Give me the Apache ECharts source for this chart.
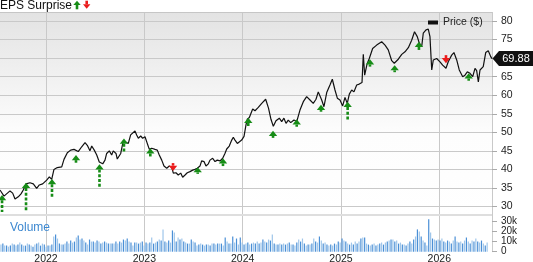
<!DOCTYPE html>
<html><head><meta charset="utf-8">
<script src="https://cdn.jsdelivr.net/npm/echarts@6/dist/echarts.min.js"></script>
<style>html,body{margin:0;padding:0;background:#fff}#c{width:533px;height:262px}</style>
</head><body><div id="c"></div>
<script>
// ---- data (decimal years, prices in $) ----
const priceDates = [2021.532,2021.573,2021.634,2021.661,2021.685,2021.718,2021.746,2021.769,2021.797,2021.837,2021.871,2021.905,2021.932,2021.966,2022.007,2022.034,2022.058,2022.081,2022.115,2022.160,2022.183,2022.217,2022.251,2022.285,2022.328,2022.363,2022.397,2022.420,2022.447,2022.465,2022.491,2022.516,2022.542,2022.577,2022.600,2022.617,2022.644,2022.668,2022.684,2022.712,2022.725,2022.760,2022.786,
2022.803,2022.837,2022.861,2022.905,2022.922,2022.939,2022.963,2022.983,2023.007,2023.030,2023.051,2023.075,2023.109,2023.132,2023.152,2023.177,2023.200,2023.228,2023.254,2023.278,2023.295,2023.322,2023.345,2023.370,2023.390,2023.414,2023.437,2023.464,2023.492,2023.515,2023.539,2023.566,2023.583,2023.607,2023.627,2023.651,2023.668,2023.695,2023.719,2023.742,2023.770,2023.797,2023.820,2023.838,2023.864,2023.889,2023.905,2023.922,2023.946,2023.966,2023.990,
2024.014,2024.034,2024.047,2024.068,2024.085,2024.102,2024.126,2024.159,2024.194,2024.234,2024.263,2024.288,2024.312,2024.339,2024.373,2024.397,2024.420,2024.441,2024.464,2024.489,2024.522,2024.550,2024.583,2024.617,2024.651,2024.685,2024.718,2024.746,2024.769,2024.804,2024.827,2024.855,2024.888,2024.912,2024.939,2024.963,2024.990,
2025.017,2025.041,2025.064,2025.085,2025.109,2025.132,2025.160,2025.186,2025.214,2025.227,2025.241,2025.265,2025.288,2025.322,2025.363,2025.414,2025.448,2025.481,2025.516,2025.542,2025.583,2025.618,2025.651,2025.685,2025.719,2025.748,2025.776,2025.797,2025.821,2025.837,2025.865,2025.888,2025.905,2025.923,2025.939,2025.973,
2026.007,2026.034,2026.068,2026.091,2026.126,2026.149,2026.177,2026.203,2026.238,2026.261,2026.285,2026.312,2026.340,2026.363,2026.380,2026.397,2026.414,2026.447,2026.472,2026.498,2026.523,2026.536];
const priceValues = [34.45,32.8,34.2,33.6,32.0,32.6,33.4,34.45,36.1,36.4,36.1,34.9,35.8,36.1,37.1,38.0,37.3,40.0,40.5,40.7,42.7,44.5,45.2,45.4,44.8,46.1,47.2,46.5,45.0,46.3,45.2,43.9,42.0,41.5,42.5,44.3,45.0,43.9,45.0,44.3,42.8,44.3,47.7,
47.9,47.0,49.3,50.35,49.3,48.4,49.0,48.4,48.8,47.0,45.4,45.7,45.4,45.2,43.9,42.5,40.9,40.3,40.9,40.6,39.0,39.1,38.5,39.0,37.9,38.5,39.1,39.4,39.8,40.0,40.3,40.9,42.3,42.1,40.9,41.5,42.5,43.0,42.1,42.5,42.3,43.0,44.3,45.5,46.3,47.9,48.65,47.9,47.0,46.8,47.9,
48.9,52.0,53.5,54.0,53.8,56.3,55.8,56.7,57.8,58.9,56.5,53.5,51.6,53.1,53.8,52.9,53.8,52.4,53.3,52.6,53.3,52.9,56.0,58.25,59.6,58.7,57.8,58.9,60.9,58.7,56.9,60.7,62.75,64.3,61.4,59.2,58.7,
57.1,59.4,57.8,60.3,61.4,60.9,62.75,63.0,63.4,71.0,65.4,68.4,69.9,72.6,73.5,74.4,73.5,72.2,69.3,68.6,69.7,71.0,71.7,72.8,74.8,77.1,75.8,74.0,73.1,76.7,77.6,77.8,75.8,66.8,69.5,69.9,
69.0,68.1,67.25,69.0,70.8,71.5,69.5,66.8,65.0,65.4,66.3,65.9,65.0,67.25,66.6,63.6,66.8,67.7,71.5,72.0,70.4,69.88];
const lastPrice = 69.88;

// EPS surprise arrows: date, arrow tip price, stem end price
const beatDates = [2021.553,2021.797,2022.061,2022.305,2022.544,2022.793,2023.061,2023.543,2023.800,2024.057,2024.309,2024.550,2024.797,2025.068,2025.295,2025.546,2025.793,2026.299];
const beatTip   = [33.1,36.4,37.4,43.9,41.4,48.3,45.7,40.6,43.0,53.9,50.4,53.5,57.4,58.25,69.7,68.1,74.4,65.9];
const beatEnd   = [28.5,28.6,32.6,41.8,35.2,44.6,43.4,38.8,40.9,51.7,48.5,51.5,55.55,53.3,67.7,66.2,72.2,63.9];
const missDates = [2023.292,2026.068];
const missTip   = [39.6,68.6];
const missEnd   = [41.7,70.8];

// weekly volume (thousands)
const volumeStart = 2021.542;
const volumeValues = [7,8,6,6,5,6,8,7,6,7, 9,7,6,6,8,7,6,5,7,8, 9,6,8,7,5,6,6,7,15,17, 13,8,7,7,8,10,8,11,9,10,
14,16,12,13,11,9,7,12,10,10, 9,11,10,8,9,10,9,8,8,8, 8,10,8,10,9,12,11,13,10,9, 6,9,9,8,9,10,6,9,8,9,
14,8,9,10,12,11,22,10,9,11, 9,21,19,10,14,12,13,10,9,8, 8,12,10,9,6,7,8,7,6,7, 7,6,8,8,7,8,8,8,6,14,
10,8,8,15,9,13,7,14,9,7, 8,9,7,8,9,8,10,8,9,12, 10,9,12,11,17,8,7,7,8,7, 8,7,8,9,7,7,6,9,12,10,
13,8,6,7,7,8,13,10,9,15, 11,8,9,7,6,7,6,8,7,10, 9,13,11,10,8,7,9,7,10,8, 10,13,14,14,8,7,6,7,8,6,
7,8,9,7,9,10,11,12,12,10, 11,8,9,7,7,6,8,10,8,12, 15,22,20,15,11,9,6,32,19,13, 12,11,12,11,13,10,9,11,10,8,
11,15,10,9,10,8,11,14,10,8, 11,10,13,10,9,11,8,6,9];

const priceMin = 30, priceMax = 80, priceStep = 5;
const volMin = 0, volMax = 30, volStep = 10;
const xMin = 2021, xMax = 2026.536;

// ---- chart ----
const chart = echarts.init(document.getElementById('c'), null, {renderer:'canvas'});
const GRID = '#c9c9c9';
const txt = '#222';
const F = 'Liberation Sans, Arial, sans-serif';

function arrow(dir, col){
  return function(params, api){
    const p = api.coord([api.value(0), api.value(1)]);
    const q = api.coord([api.value(0), api.value(2)]);
    const hw = 4.2, hh = 5.2;
    const by = p[1] + dir*hh;
    return {type:'group', children:[
      {type:'line', shape:{x1:p[0],y1:by,x2:p[0],y2:q[1]}, style:{stroke:col,lineWidth:2.6,lineDash:[3,1.8]}},
      {type:'polygon', shape:{points:[[p[0],p[1]],[p[0]-hw,by],[p[0]+hw,by]]}, style:{fill:col}}
    ]};
  };
}

const xCommon = {type:'value', min:xMin, max:xMax, interval:1, axisLine:{show:false}, axisTick:{show:false}, splitLine:{show:false}, axisLabel:{show:false}};
const gridCommon = {left:-52.33, right:41, outerBoundsMode:'none', containLabel:false};

chart.setOption({
  animation:false,
  textStyle:{fontFamily:F},
  title:{text:'EPS Surprise', left:0, top:0, padding:0, textStyle:{fontSize:12, fontWeight:'normal', color:'#111', fontFamily:F}},
  legend:{data:['Price ($)'], left:428, top:17, padding:0, icon:'rect', itemWidth:10, itemHeight:4, itemGap:5,
    textStyle:{fontSize:10.5, color:txt, fontFamily:F}},
  grid:[
    Object.assign({top:21, bottom:55.5}, gridCommon),
    Object.assign({top:221.3, bottom:10.3}, gridCommon),
    Object.assign({top:12, bottom:10}, gridCommon)
  ],
  xAxis:[
    Object.assign({gridIndex:0}, xCommon),
    Object.assign({}, xCommon, {gridIndex:1, axisLabel:{show:true, fontSize:10.5, color:txt, margin:2, fontFamily:F,
      formatter:v => Number.isInteger(v) ? String(v) : ''}}),
    Object.assign({}, xCommon, {gridIndex:2, splitLine:{show:true, lineStyle:{color:GRID, width:1}}})
  ],
  yAxis:[
    {gridIndex:0, type:'value', position:'right', min:priceMin, max:priceMax, interval:priceStep,
      axisLine:{show:false}, axisTick:{show:true, length:5, lineStyle:{color:'#aaa'}},
      axisLabel:{fontSize:10.5, color:txt, margin:9, fontFamily:F, showMinLabel:true, showMaxLabel:true, hideOverlap:false},
      splitLine:{show:true, lineStyle:{color:GRID, width:1}}},
    {gridIndex:1, type:'value', position:'right', min:volMin, max:volMax, interval:volStep,
      axisLine:{show:true, lineStyle:{color:'#ccc'}}, axisTick:{show:true, length:5, lineStyle:{color:'#aaa'}},
      axisLabel:{fontSize:10, lineHeight:8, color:txt, margin:9, fontFamily:F, showMinLabel:true, showMaxLabel:true, hideOverlap:false,
        formatter:v => v===0 ? '0' : v+'k'},
      splitLine:{show:false}},
    {gridIndex:2, type:'value', show:false, min:0, max:1}
  ],
  series:[
    {name:'Volume', type:'bar', xAxisIndex:1, yAxisIndex:1, barWidth:1.2, clip:false,
      data: volumeValues.map((v,i)=>({value:[volumeStart + i*7/365.25, v],
        itemStyle:{color: i%2 ? '#4a8fd6' : '#9fc6ea'}}))},
    {name:'Price ($)', type:'line', xAxisIndex:0, yAxisIndex:0, symbol:'none', clip:false,
      lineStyle:{color:'#111', width:1.2}, itemStyle:{color:'#111'}, z:3,
      data: priceDates.map((d,i)=>[d, priceValues[i]])},
    {name:'Beat', type:'custom', xAxisIndex:0, yAxisIndex:0, clip:false, z:4,
      renderItem: arrow(1, '#168c16'), data: beatDates.map((d,i)=>[d, beatTip[i], beatEnd[i]])},
    {name:'Miss', type:'custom', xAxisIndex:0, yAxisIndex:0, clip:false, z:4,
      renderItem: arrow(-1, '#ea1b1b'), data: missDates.map((d,i)=>[d, missTip[i], missEnd[i]])}
  ]
});

const ty = chart.convertToPixel({yAxisIndex:0}, lastPrice);
const rx = chart.convertToPixel({xAxisIndex:0}, xMax);
chart.setOption({graphic:[
  {type:'rect', z:-100, silent:true, shape:{x:0, y:12, width:rx, height:203},
    style:{fill:new echarts.graphic.LinearGradient(0,0,0,1,[{offset:0,color:'#e3e3e3'},{offset:0.6,color:'#fdfdfd'},{offset:1,color:'#ffffff'}])}},
  {type:'line', z:50, silent:true, shape:{x1:0,y1:12.5,x2:rx,y2:12.5}, style:{stroke:'#c6c6c6', lineWidth:1}},
  {type:'rect', z:50, silent:true, shape:{x:0, y:214, width:rx, height:2}, style:{fill:'#dedede'}},
  {type:'polygon', z:100, shape:{points:[[rx+0.5,ty],[rx+7,ty-7.5],[533,ty-7.5],[533,ty+7.5],[rx+7,ty+7.5]]}, style:{fill:'#111'}},
  {type:'text', z:101, style:{x:rx+24, y:ty, text:lastPrice.toFixed(2), fill:'#fff', font:'11px '+F, align:'center', verticalAlign:'middle'}},
  // title arrow icons
  {type:'polygon', z:100, shape:{points:[[77,0.7],[73.3,5],[80.7,5]]}, style:{fill:'#168c16'}},
  {type:'rect', z:100, shape:{x:75.7,y:5,width:2.6,height:4.3}, style:{fill:'#168c16'}},
  {type:'rect', z:100, shape:{x:85.4,y:0.7,width:2.6,height:3.6}, style:{fill:'#ea1b1b'}},
  {type:'polygon', z:100, shape:{points:[[83,4.3],[90.4,4.3],[86.7,8.8]]}, style:{fill:'#ea1b1b'}},
  {type:'text', z:100, style:{x:10, y:227.5, text:'Volume', fill:'#3d88d0', font:'12px '+F, verticalAlign:'middle'}}
]});
</script></body></html>
